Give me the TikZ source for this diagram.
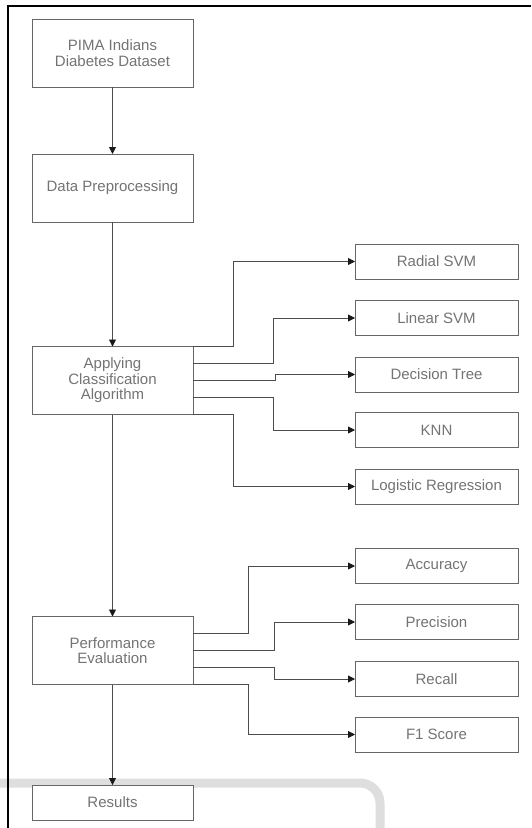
\documentclass[tikz,border=0pt]{standalone}
\usepackage{fontspec}
\setmainfont{Liberation Sans}
\usepackage{tikz}
\usetikzlibrary{arrows.meta,calc}

\begin{document}
\begin{tikzpicture}[x=1pt, y=-1pt, outer sep = 0pt]

\tikzstyle{box}=[draw=black!60, line width=0.8pt, rectangle, minimum height=68pt, minimum width=161pt, align=center, text=black!55, font=\fontsize{15}{15.5}\selectfont]
\tikzstyle{sbox}=[box, minimum height=35pt, minimum width=163pt]
\tikzstyle{conn}=[draw=black!70, line width=0.8pt, -{Triangle[length=7pt,width=7pt,color=black!90]}]

\useasboundingbox (0,0) rectangle (531,828);
\draw[black!13, line width=9pt, rounded corners=20pt] (0,783) -- (380,783) -- (380,840);
\draw[black, line width=2pt] (8,828) -- (8,6) -- (531,6);

\node[box] (data) at (112.5,53) {PIMA Indians\\Diabetes Dataset};
\node[box] (prep) at (112.5,188) {Data Preprocessing};
\node[box] (apply) at (112.5,380.5) {Applying\\Classification\\Algorithm};
\node[box] (eval) at (112.5,650.5) {Performance\\Evaluation};
\node[sbox, minimum width=161pt, fill=white] (res) at (112.5,802.5) {Results};

\node[sbox] (rsvm) at (436.5,261.5) {Radial SVM}; \node[sbox] (lsvm) at (436.5,318) {Linear SVM};
\node[sbox] (dtree) at (436.5,374.5) {Decision Tree}; \node[sbox] (knn) at (436.5,430) {KNN};
\node[sbox] (logreg) at (436.5,486.5) {Logistic Regression};
\node[sbox] (acc) at (436.5,566) {Accuracy}; \node[sbox] (prec) at (436.5,622) {Precision};
\node[sbox] (rec) at (436.5,679) {Recall}; \node[sbox] (fscore) at (436.5,734.5) {F1 Score};

\draw[conn] (data) -- (prep); \draw[conn] (prep) -- (apply);
\draw[conn] (apply) -- (eval); \draw[conn] (eval) -- (res);

\draw[conn] (apply.north east) -- ++(40,0) |- (rsvm);
\draw[conn] ($(apply.north east)!0.25!(apply.south east)$) -- ++(80,0) |- (lsvm);
\draw[conn] (apply.east) -- ++(82,0) |- (dtree);
\draw[conn] ($(apply.north east)!0.75!(apply.south east)$) -- ++(80,0) |- (knn);
\draw[conn] (apply.south east) -- ++(40,0) |- (logreg);

\draw[conn] ($(eval.north east)!0.25!(eval.south east)$) -- ++(55,0) |- (acc);
\draw[conn] (eval.east) -- ++(81,0) |- (prec);
\draw[conn] ($(eval.north east)!0.75!(eval.south east)$) -- ++(81,0) |- (rec);
\draw[conn] (eval.south east) -- ++(55,0) |- (fscore);

\end{tikzpicture}
\end{document}
